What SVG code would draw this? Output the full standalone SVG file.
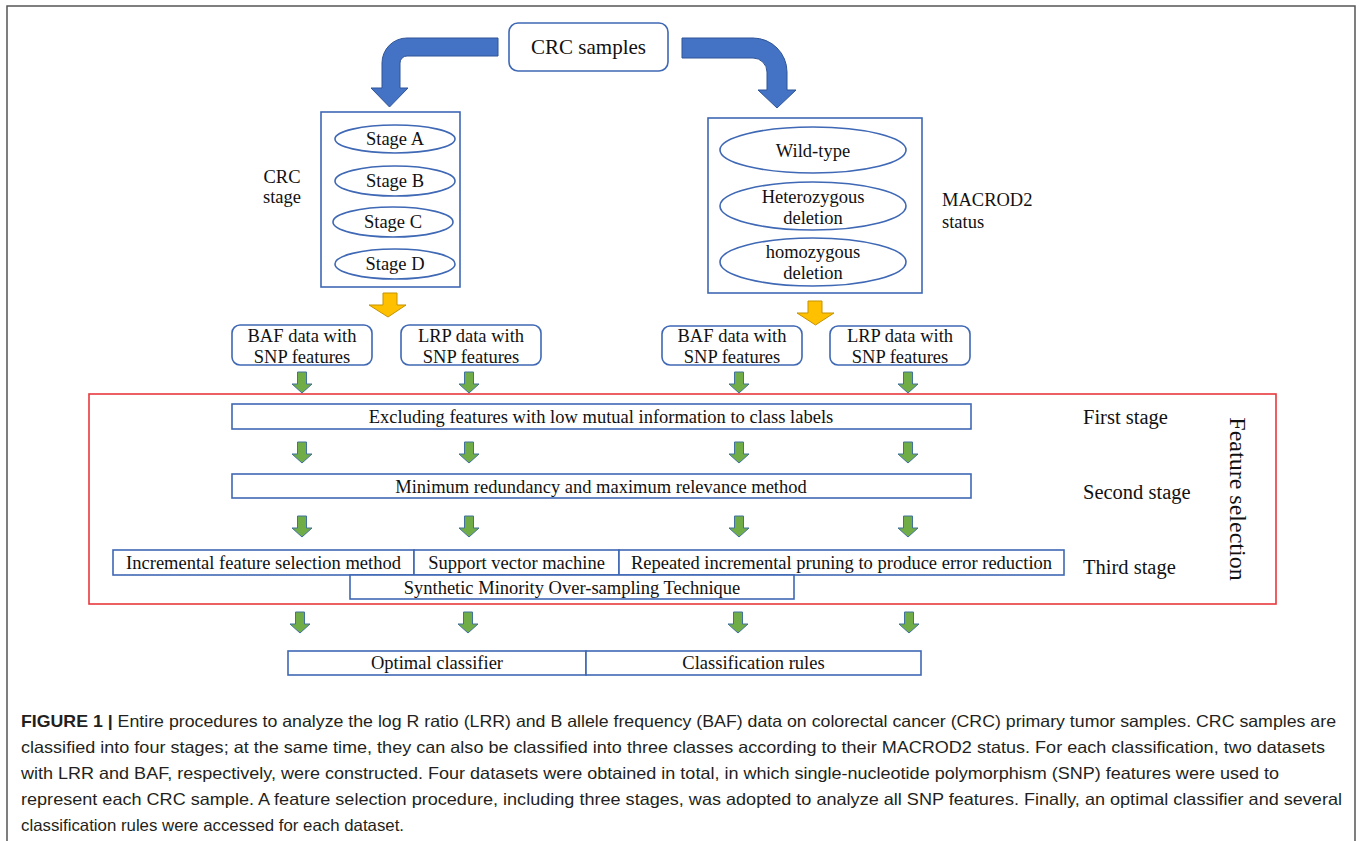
<svg xmlns="http://www.w3.org/2000/svg" xmlns:xlink="http://www.w3.org/1999/xlink" width="1360" height="841" viewBox="0 0 1360 841">
<style>
.t{font-family:"Liberation Serif","Times New Roman",serif;fill:#111;font-size:18.5px}
.c{text-anchor:middle}
.box{fill:#fff;stroke:#3f68b5;stroke-width:1.6}
.ell{fill:#fff;stroke:#3f68b5;stroke-width:1.6}
.blue{fill:#4472c4;stroke:#2f5597;stroke-width:1}
.yel{fill:#ffc000;stroke:#c59300;stroke-width:1}
.cap{font-family:"Liberation Sans Narrow","Liberation Sans",Arial,sans-serif;font-size:16.5px;fill:#231f20}
</style>
<defs>
<path id="ga" d="M-4.5,0 H4.5 V12 H10 L0,21 L-10,12 H-4.5 Z" fill="#70ad47" stroke="#41719c" stroke-width="1"/>
</defs>
<rect x="7" y="6" width="1348" height="850" fill="#fff" stroke="#555" stroke-width="1.5"/>

<g id="crc-samples">
<rect class="box" x="509" y="23" width="159" height="48" rx="9"/>
<text class="t c" x="588.5" y="54" style="font-size:21px">CRC samples</text>
</g>

<g id="crc-stage">
<rect class="box" x="321" y="112" width="139" height="175"/>
<ellipse class="ell" cx="395" cy="139" rx="60" ry="14"/>
<text class="t c" x="395" y="145">Stage A</text>
<ellipse class="ell" cx="395" cy="181" rx="60" ry="15"/>
<text class="t c" x="395" y="187">Stage B</text>
<ellipse class="ell" cx="393" cy="222" rx="60" ry="15"/>
<text class="t c" x="393" y="228">Stage C</text>
<ellipse class="ell" cx="395" cy="264" rx="60" ry="15"/>
<text class="t c" x="395" y="270">Stage D</text>
<text class="t c" x="282" y="183">CRC</text>
<text class="t c" x="282" y="203">stage</text>
</g>

<g id="macrod2-status">
<rect class="box" x="708" y="118" width="214" height="175"/>
<ellipse class="ell" cx="813" cy="150" rx="93" ry="23"/>
<text class="t c" x="813" y="157">Wild-type</text>
<ellipse class="ell" cx="813" cy="206" rx="93" ry="24"/>
<text class="t c" x="813" y="203">Heterozygous</text>
<text class="t c" x="813" y="224">deletion</text>
<ellipse class="ell" cx="813" cy="262" rx="93" ry="24"/>
<text class="t c" x="813" y="258">homozygous</text>
<text class="t c" x="813" y="279">deletion</text>
<text class="t" x="942" y="206">MACROD2</text>
<text class="t" x="942" y="228">status</text>
</g>

<g id="data-left">
<rect class="box" x="232" y="325" width="140" height="40" rx="8"/>
<text class="t c" x="302" y="342">BAF data with</text>
<text class="t c" x="302" y="363">SNP features</text>
<rect class="box" x="401" y="325" width="140" height="40" rx="8"/>
<text class="t c" x="471" y="342">LRP data with</text>
<text class="t c" x="471" y="363">SNP features</text>
</g>

<g id="data-right">
<rect class="box" x="662" y="326" width="140" height="39" rx="8"/>
<text class="t c" x="732" y="342">BAF data with</text>
<text class="t c" x="732" y="363">SNP features</text>
<rect class="box" x="830" y="326" width="140" height="39" rx="8"/>
<text class="t c" x="900" y="342">LRP data with</text>
<text class="t c" x="900" y="363">SNP features</text>
</g>

<g id="feature-selection">
<rect x="89" y="394" width="1187" height="210" fill="none" stroke="#e8383d" stroke-width="1.6"/>
<text class="t" x="1238" y="499" transform="rotate(90 1238 499)" text-anchor="middle" dominant-baseline="central" style="font-size:24px">Feature selection</text>
</g>

<g id="first-stage">
<rect class="box" x="232" y="404" width="739" height="25"/>
<text class="t c" x="601" y="423">Excluding features with low mutual information to class labels</text>
<text class="t" x="1083" y="424" style="font-size:20.5px">First stage</text>
</g>

<g id="second-stage">
<rect class="box" x="232" y="474" width="739" height="24"/>
<text class="t c" x="601" y="493">Minimum redundancy and maximum relevance method</text>
<text class="t" x="1083" y="499" style="font-size:20.5px">Second stage</text>
</g>

<g id="third-stage">
<rect class="box" x="113" y="550" width="301" height="25"/>
<text class="t c" x="263.5" y="569">Incremental feature selection method</text>
<rect class="box" x="414" y="550" width="205" height="25"/>
<text class="t c" x="516.5" y="569">Support vector machine</text>
<rect class="box" x="619" y="550" width="445" height="25"/>
<text class="t c" x="841.5" y="569">Repeated incremental pruning to produce error reduction</text>
<rect class="box" x="350" y="575" width="444" height="24"/>
<text class="t c" x="572" y="594">Synthetic Minority Over-sampling Technique</text>
<text class="t" x="1083" y="574" style="font-size:20.5px">Third stage</text>
</g>

<g id="results">
<rect class="box" x="288" y="651" width="298" height="24"/>
<text class="t c" x="437" y="669">Optimal classifier</text>
<rect class="box" x="586" y="651" width="335" height="24"/>
<text class="t c" x="753.5" y="669">Classification rules</text>
</g>

<g id="connectors">
<path class="blue" d="M498,38 H407 A25,25 0 0 0 382,63 V88 H371 L389.5,107 L408,88 H400 V63 A7,7 0 0 1 407,56 H498 Z"/>
<path class="blue" d="M682,38 H753 A34,34 0 0 1 787,72 V90 H796 L777,108 L758,90 H767 V72 A14,14 0 0 0 753,58 H682 Z"/>
<path class="yel" d="M383,293 H397 V305 H406 L388,317 L369,305 H383 Z"/>
<path class="yel" d="M808,301 H822 V313 H834 L815.5,325 L797,313 H808 Z"/>
<use xlink:href="#ga" x="302" y="372"/>
<use xlink:href="#ga" x="469" y="372"/>
<use xlink:href="#ga" x="739" y="372"/>
<use xlink:href="#ga" x="908" y="372"/>
<use xlink:href="#ga" x="302" y="442"/>
<use xlink:href="#ga" x="469" y="442"/>
<use xlink:href="#ga" x="739" y="442"/>
<use xlink:href="#ga" x="908" y="442"/>
<use xlink:href="#ga" x="302" y="516"/>
<use xlink:href="#ga" x="469" y="516"/>
<use xlink:href="#ga" x="739" y="516"/>
<use xlink:href="#ga" x="908" y="516"/>
<use xlink:href="#ga" x="300" y="612"/>
<use xlink:href="#ga" x="468" y="612"/>
<use xlink:href="#ga" x="738" y="612"/>
<use xlink:href="#ga" x="909" y="612"/>
</g>

<g id="caption">
<text class="cap" x="21" y="727" textLength="1315" lengthAdjust="spacingAndGlyphs"><tspan font-weight="bold">FIGURE 1 |</tspan> Entire procedures to analyze the log R ratio (LRR) and B allele frequency (BAF) data on colorectal cancer (CRC) primary tumor samples. CRC samples are</text>
<text class="cap" x="21" y="753" textLength="1304" lengthAdjust="spacingAndGlyphs">classified into four stages; at the same time, they can also be classified into three classes according to their MACROD2 status. For each classification, two datasets</text>
<text class="cap" x="21" y="779" textLength="1258" lengthAdjust="spacingAndGlyphs">with LRR and BAF, respectively, were constructed. Four datasets were obtained in total, in which single-nucleotide polymorphism (SNP) features were used to</text>
<text class="cap" x="21" y="805" textLength="1321" lengthAdjust="spacingAndGlyphs">represent each CRC sample. A feature selection procedure, including three stages, was adopted to analyze all SNP features. Finally, an optimal classifier and several</text>
<text class="cap" x="21" y="831" textLength="383" lengthAdjust="spacingAndGlyphs">classification rules were accessed for each dataset.</text>
</g>
</svg>
